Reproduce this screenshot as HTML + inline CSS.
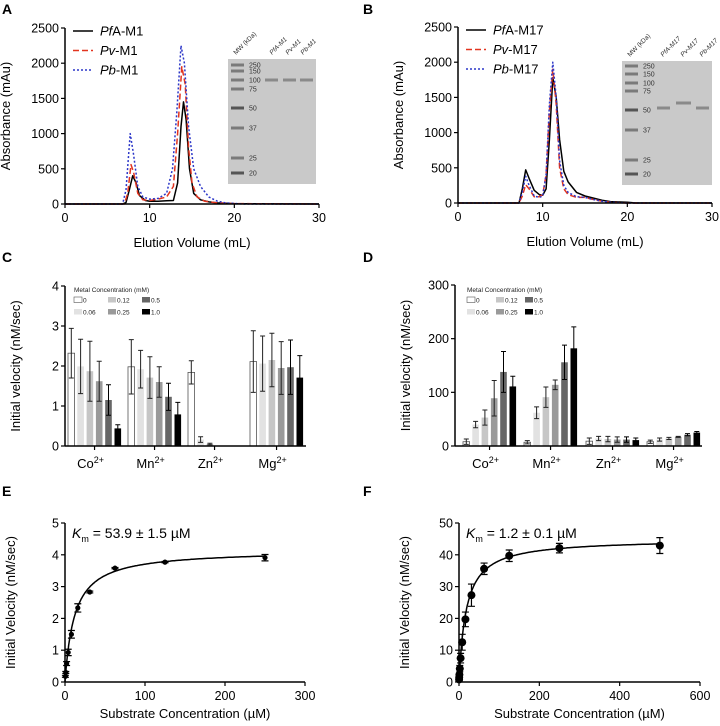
<!DOCTYPE html>
<html><head><meta charset="utf-8"><style>
html,body{margin:0;padding:0;background:#fff}
svg{display:block;font-family:"Liberation Sans",Arial,sans-serif}
</style></head><body>
<svg id="fig" width="720" height="726" viewBox="0 0 720 726" xmlns="http://www.w3.org/2000/svg">
<g font-weight="bold" font-size="14">
<text x="2" y="14">A</text>
<text x="363" y="14">B</text>
<text x="2" y="262">C</text>
<text x="363" y="262">D</text>
<text x="2" y="496">E</text>
<text x="363" y="496">F</text>
</g>
</svg>
<script>
// ---------- data ----------
const aBlackX=[0,6.8,7.2,7.6,8.0,8.4,8.8,9.5,10,11,12,12.8,13.3,13.7,14.0,14.3,14.7,15.2,16,17,18,20,30];
const aBlackY=[0,0,20,200,400,300,120,50,40,40,45,50,300,1100,1450,1200,500,150,60,30,15,5,0];
const aRedX=[0,7,7.4,7.8,8.1,8.6,9.2,10,11,12,12.8,13.3,13.8,14.2,14.6,15.0,15.6,16.5,18,20,30];
const aRedY=[0,0,150,560,450,150,60,50,70,100,250,1000,1950,1700,800,300,100,40,15,5,0];
const aBlueX=[0,6.8,7.2,7.7,8.1,8.6,9.2,10,11,12,12.7,13.2,13.7,14.1,14.6,15.2,16,17,18,19,21,30];
const aBlueY=[0,0,200,1000,700,250,100,70,80,150,500,1300,2250,2000,1100,500,250,100,40,15,0,0];
const bBlackX=[0,7.2,7.6,8.0,8.4,9,9.6,10,10.4,10.8,11.2,11.6,12,12.5,13,14,15,16,17,18,20,21,30];
const bBlackY=[0,0,200,470,350,180,120,110,200,900,1780,1500,900,450,300,150,100,70,40,20,10,0,0];
const bRedX=[0,7.2,7.6,8.0,8.4,9,9.6,10,10.4,10.8,11.2,11.6,12,12.5,13,14,15,16,17,18,20,30];
const bRedY=[0,0,100,260,200,90,90,120,400,1300,1900,1400,500,200,120,80,80,50,25,10,0,0];
const bBlueX=[0,7.2,7.6,8.0,8.4,9,9.6,10,10.4,10.8,11.2,11.6,12,12.5,13,14,15,16,17,18,20,30];
const bBlueY=[0,0,150,380,250,100,80,100,400,1400,2000,1500,600,250,150,90,80,50,25,10,0,0];
const metals=["Co","Mn","Zn","Mg"];
const concLabels=["0","0.06","0.12","0.25","0.5","1.0"];
const cMeans=[[2.32,1.99,1.87,1.62,1.15,0.44],[1.98,1.92,1.71,1.60,1.23,0.79],[1.84,0.16,0.05,0.01,0,0],[2.11,2.06,2.15,1.95,1.97,1.71]];
const cErrs=[[0.62,0.68,0.75,0.5,0.38,0.09],[0.68,0.47,0.52,0.38,0.34,0.3],[0.29,0.07,0.02,0,0,0],[0.77,0.69,0.67,0.66,0.68,0.55]];
const dMeans=[[8,40,53,89,138,111],[7,62,91,114,156,182],[9,14,13,12,12,11],[8,12,14,17,21,25]];
const dErrs=[[5,6,14,33,38,19],[3,11,19,9,32,40],[6,4,5,5,5,4],[3,3,2,1,2,2]];
const eX=[0.5,1,2,4,8,16,31,62.5,125,250];
const eY=[0.18,0.3,0.58,0.93,1.5,2.33,2.83,3.58,3.77,3.91];
const eErr=[0.03,0.03,0.06,0.1,0.12,0.13,0.03,0.02,0.02,0.1];
const eFit=[4.15,12];
const fX=[0.25,0.5,1,2,4,8,16,31,62.5,125,250,500];
const fY=[0.8,1.5,2.3,4.2,7.5,12.5,19.7,27.3,35.6,39.7,42.1,42.9];
const fErr=[0.3,0.4,0.5,1,1.5,2.5,2.3,3.5,1.8,1.8,1.5,2.5];
const fFit=[45,18];
const barFills=["#ffffff","#e2e2e2","#c6c6c6","#9a9a9a","#666666","#000000"];

const NS="http://www.w3.org/2000/svg";
const svg=document.getElementById('fig');
function mk(tag,attrs,parent){const e=document.createElementNS(NS,tag);for(const k in attrs)e.setAttribute(k,attrs[k]);(parent||svg).appendChild(e);return e;}
function lin(d0,d1,r0,r1){return v=>r0+(v-d0)*(r1-r0)/(d1-d0);}

function axes(g,sx,sy,xt,yt,x0,x1,y0,y1){
  const ax=mk('line',{x1:sx(x0),x2:sx(x1),y1:sy(y0),y2:sy(y0),stroke:'#000','stroke-width':1.5},g);
  
  
  const ay=mk('line',{x1:sx(x0),x2:sx(x0),y1:sy(y0),y2:sy(y1),stroke:'#000','stroke-width':1.5},g);
  
  
  xt.forEach(v=>{
    mk('line',{x1:sx(v),x2:sx(v),y1:sy(y0),y2:sy(y0)+4,stroke:'#000','stroke-width':1.2},g);
    const t=mk('text',{x:sx(v),y:sy(y0)+18,'text-anchor':'middle','font-size':12.5},g);
    
    
    t.textContent=v;
  });
  yt.forEach(v=>{
    mk('line',{x1:sx(x0)-4,x2:sx(x0),y1:sy(v),y2:sy(v),stroke:'#000','stroke-width':1.2},g);
    const t=mk('text',{x:sx(x0)-6,y:sy(v)+4.5,'text-anchor':'end','font-size':12.5},g);
    
    
    t.textContent=v;
  });
}
function ytitle(g,x,y,txt){const t=mk('text',{x:x,y:y,'text-anchor':'middle','font-size':13,transform:`rotate(-90 ${x} ${y})`},g);
  
  
  t.textContent=txt;}
function xtitle(g,x,y,txt){const t=mk('text',{x:x,y:y,'text-anchor':'middle','font-size':13},g);
  
  
  t.textContent=txt;}

// ---------- chromatograms ----------
function chrom(id,X0,X1,Y0,Y1,series,names,gel){
  const g=mk('g',{});
  
  
  const sx=lin(0,30,X0,X1),sy=lin(0,2500,Y0,Y1);
  const gg=mk('g',{},g);
  
  
  mk('rect',{x:gel.x,y:gel.y,width:gel.w,height:gel.h,fill:'#c9c9c9'},gg);
  gel.marks.forEach((m,i)=>{
    mk('rect',{x:gel.x+3,y:m[1]-1.5,width:13,height:3,fill:i==4||i==7?'#555':'#7a7a7a'},gg);
    const t=mk('text',{x:gel.x+21,y:m[1]+2.5,'font-size':7,fill:'#333'},gg);
    
    
    t.textContent=m[0];
  });
  gel.bands.forEach(b=>{const r=mk('rect',{x:b[0],y:b[1]-1.5,width:b[2],height:3,fill:'#8a8a8a'},gg);
    
    });
  gel.cols.forEach(c=>{const t=mk('text',{x:c[0],y:gel.y-4,'font-size':6.5,fill:'#333','font-style':c[2]?'italic':'normal',transform:`rotate(-45 ${c[0]} ${gel.y-4})`},gg);
    
    
    t.textContent=c[1];});
  const styles=[{s:'#000',d:'',w:1.5},{s:'#e2341f',d:'6,3',w:1.5},{s:'#2b36c8',d:'2,2',w:1.5}];
  series.forEach((sr,i)=>{
    const p=mk('path',{d:sr[0].map((x,j)=>(j?'L':'M')+sx(x).toFixed(1)+','+sy(sr[1][j]).toFixed(1)).join(''),fill:'none',stroke:styles[i].s,'stroke-width':styles[i].w,'stroke-dasharray':styles[i].d,'stroke-linejoin':'round'},g);
    
    
    const ly=Y1+3+i*19.5;
    const lg=mk('g',{},g);
    
    
    mk('line',{x1:X0+8,x2:X0+28,y1:ly,y2:ly,stroke:styles[i].s,'stroke-width':1.5,'stroke-dasharray':styles[i].d},lg);
    const t=mk('text',{x:X0+35,y:ly+4.5,'font-size':13},lg);
    const a=mk('tspan',{'font-style':'italic'},t);a.textContent=names[i][0];
    const b=mk('tspan',{},t);b.textContent=names[i][1];
  });
  axes(g,sx,sy,[0,10,20,30],[0,500,1000,1500,2000,2500],0,30,0,2500);
  ytitle(g,X0-55,(Y0+Y1)/2,'Absorbance (mAu)');
  xtitle(g,(X0+X1)/2,Y0+43,'Elution Volume (mL)');
}
chrom('a',65,319,204,28,[[aBlackX,aBlackY],[aRedX,aRedY],[aBlueX,aBlueY]],[['Pf','A-M1'],['Pv','-M1'],['Pb','-M1']],
 {x:228,y:59,w:88,h:125,marks:[[250,65],[150,71],[100,80],[75,89],[50,108],[37,128],[25,158],[20,173]],
  bands:[[265,80,13],[283,80,13],[300,80,13]],cols:[[236,'MW (kDa)',0],[272,'PfA-M1',1],[288,'Pv-M1',1],[303,'Pb-M1',1]]});
chrom('b',458,712,203,27,[[bBlackX,bBlackY],[bRedX,bRedY],[bBlueX,bBlueY]],[['Pf','A-M17'],['Pv','-M17'],['Pb','-M17']],
 {x:622,y:61,w:90,h:124,marks:[[250,66],[150,74],[100,83],[75,91],[50,110],[37,130],[25,160],[20,174]],
  bands:[[657,108,13],[676,103,15],[696,108,13]],cols:[[630,'MW (kDa)',0],[663,'PfA-M17',1],[683,'Pv-M17',1],[702,'Pb-M17',1]]});

// ---------- bar charts ----------
function bars(id,X0,X1,Y0,Y1,ymax,yt,means,errs,starts,leg){
  const g=mk('g',{});
  
  
  const sy=lin(0,ymax,Y0,Y1);
  const bw=6.6,sp=9.3;
  means.forEach((grp,gi)=>{
    grp.forEach((v,bi)=>{
      const x=starts[gi]+bi*sp;
      const r=mk('rect',{x:x,y:sy(v),width:bw,height:Math.max(0,Y0-sy(v)),fill:barFills[bi],stroke:bi==0?'#555':'none','stroke-width':0.8},g);
      
      
      const e=errs[gi][bi];
      if(e>0){
        const cx=x+bw/2,c=bi>=4?'#000':'#222';
        const eb=mk('path',{d:`M${cx},${sy(v-e)}L${cx},${sy(v+e)}M${cx-2.5},${sy(v+e)}L${cx+2.5},${sy(v+e)}M${cx-2.5},${sy(v-e)}L${cx+2.5},${sy(v-e)}`,stroke:c,'stroke-width':1,fill:'none'},g);
        
        
      }
    });
    const cx=starts[gi]+2.5*sp+bw/2;
    mk('line',{x1:cx,x2:cx,y1:Y0,y2:Y0+4,stroke:'#000','stroke-width':1.2},g);
    const t=mk('text',{x:cx-4,y:Y0+22,'text-anchor':'middle','font-size':13},g);
    
    
    t.textContent=metals[gi];
    const s=mk('tspan',{dy:-5,'font-size':9},t);s.textContent='2+';
  });
  const ax=mk('line',{x1:X0,x2:X1,y1:Y0,y2:Y0,stroke:'#000','stroke-width':1.5},g);
  
  
  const ay=mk('line',{x1:X0,x2:X0,y1:Y0,y2:Y1,stroke:'#000','stroke-width':1.5},g);
  
  
  yt.forEach(v=>{mk('line',{x1:X0-4,x2:X0,y1:sy(v),y2:sy(v),stroke:'#000','stroke-width':1.2},g);
    const t=mk('text',{x:X0-6,y:sy(v)+4.5,'text-anchor':'end','font-size':12.5},g);
    
    
    t.textContent=v;});
  ytitle(g,X0-45,(Y0+Y1)/2,'Initial velocity (nM/sec)');
  const lg=mk('g',{},g);
  
  
  const tt=mk('text',{x:leg.x,y:leg.y,'font-size':6.5,fill:'#222'},lg);tt.textContent='Metal Concentration (mM)';
  concLabels.forEach((c,i)=>{
    const col=Math.floor(i/2),row=i%2;
    const x=leg.x+col*leg.dx,y=leg.y+5+row*12;
    const e=mk('g',{},lg);
    
    
    mk('rect',{x:x,y:y,width:8,height:5.5,fill:barFills[i],stroke:i==0?'#555':'none','stroke-width':0.6},e);
    const t=mk('text',{x:x+9,y:y+5.5,'font-size':6.5,fill:'#222'},e);t.textContent=c;
  });
}
bars('c',65,306,446,286,4,[0,1,2,3,4],cMeans,cErrs,[68,128,188,250],{x:74,y:292,dx:34});
bars('d',455,702,446,285,300,[0,100,200,300],dMeans,dErrs,[463,524,586,647],{x:467,y:292,dx:29});

// ---------- kinetics ----------
function kin(id,X0,X1,Y0,Y1,xmax,ymax,xt,yt,xs,ys,es,fit,r,km){
  const g=mk('g',{});
  
  
  const sx=lin(0,xmax,X0,X1),sy=lin(0,ymax,Y0,Y1);
  axes(g,sx,sy,xt,yt,0,xmax,0,ymax);
  let d='';const xe=xs[xs.length-1];
  for(let i=0;i<=200;i++){const x=xe*Math.pow(i/200,2);const y=fit[0]*x/(fit[1]+x);d+=(i?'L':'M')+sx(x).toFixed(1)+','+sy(y).toFixed(1);}
  const p=mk('path',{d:d,fill:'none',stroke:'#000','stroke-width':1.5},g);
  
  
  xs.forEach((x,i)=>{
    const cx=sx(x),y=ys[i],e=es[i];
    const eb=mk('path',{d:`M${cx},${sy(y-e)}L${cx},${sy(y+e)}M${cx-3.5},${sy(y+e)}L${cx+3.5},${sy(y+e)}M${cx-3.5},${sy(y-e)}L${cx+3.5},${sy(y-e)}`,stroke:'#000','stroke-width':1.2,fill:'none'},g);
    
    
    const c=mk('circle',{cx:cx,cy:sy(y),r:r,fill:'#000'},g);
    
    
  });
  const t=mk('text',{x:X0+7,y:Y1+15,'font-size':14},g);
  
  
  const a=mk('tspan',{'font-style':'italic'},t);a.textContent='K';
  const b=mk('tspan',{dy:4,'font-size':9},t);b.textContent='m';
  const c2=mk('tspan',{dy:-4},t);c2.textContent=' = '+km;
  ytitle(g,X0-50,(Y0+Y1)/2,'Initial Velocity (nM/sec)');
  xtitle(g,(X0+X1)/2,Y0+36,'Substrate Concentration (µM)');
}
kin('e',65,305,682,523,300,5,[0,100,200,300],[0,1,2,3,4,5],eX,eY,eErr,eFit,2.6,'53.9 ± 1.5 µM');
kin('f',459,700,682,523,600,50,[0,200,400,600],[0,10,20,30,40,50],fX,fY,fErr,fFit,4,'1.2 ± 0.1 µM');
</script>
</body></html>
